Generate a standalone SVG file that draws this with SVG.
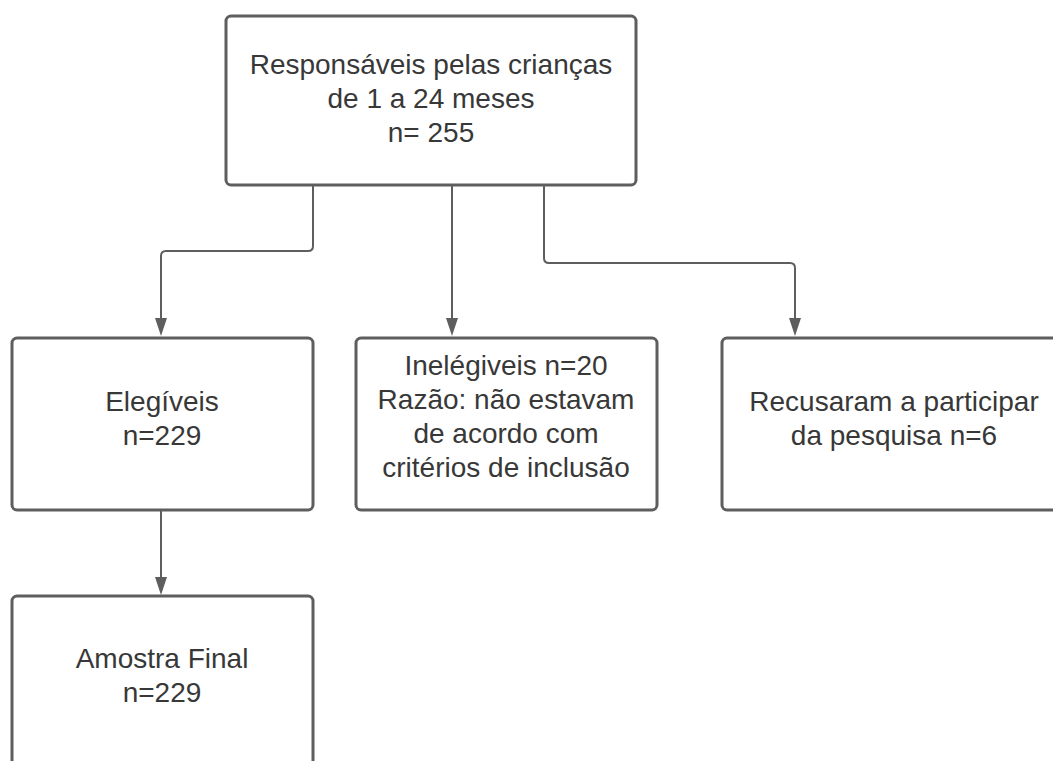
<svg xmlns="http://www.w3.org/2000/svg" width="1053" height="761" viewBox="0 0 1053 761">
<style>
.box{fill:#ffffff;stroke:#5e5e5e;stroke-width:3}
.t{font-family:"Liberation Sans",Arial,sans-serif;font-size:28px;fill:#383838;text-anchor:middle}
.c{fill:none;stroke:#5e5e5e;stroke-width:2}
.ah{fill:#5e5e5e}
</style>
<rect width="1053" height="761" fill="#ffffff"/>
<g id="connectors">
<path class="c" d="M313,186 V246 Q313,251 308,251 H166 Q161,251 161,256 V319"/>
<path class="ah" d="M155,318 L167,318 L161,336 Z"/>
<path class="c" d="M452,186 V319"/>
<path class="ah" d="M446,318 L458,318 L452,336 Z"/>
<path class="c" d="M544,186 V258 Q544,263 549,263 H790 Q795,263 795,268 V319"/>
<path class="ah" d="M789,318 L801,318 L795,336 Z"/>
<path class="c" d="M161,511 V578"/>
<path class="ah" d="M155,577 L167,577 L161,595 Z"/>
</g>
<g id="node-responsaveis">
<rect class="box" x="226" y="16" width="410" height="169" rx="5"/>
<text class="t" x="431" y="74">Responsáveis pelas crianças</text>
<text class="t" x="431" y="108">de 1 a 24 meses</text>
<text class="t" x="431" y="142">n= 255</text>
</g>
<g id="node-elegiveis">
<rect class="box" x="12" y="338" width="301" height="172" rx="5"/>
<text class="t" x="162" y="411">Elegíveis</text>
<text class="t" x="162" y="445">n=229</text>
</g>
<g id="node-inelegiveis">
<rect class="box" x="356" y="338" width="301" height="172" rx="5"/>
<text class="t" x="506" y="375">Inelégiveis n=20</text>
<text class="t" x="506" y="409">Razão: não estavam</text>
<text class="t" x="506" y="443">de acordo com</text>
<text class="t" x="506" y="477">critérios de inclusão</text>
</g>
<g id="node-recusaram">
<rect class="box" x="722" y="338" width="370" height="172" rx="5"/>
<text class="t" x="894" y="411">Recusaram a participar</text>
<text class="t" x="894" y="445">da pesquisa n=6</text>
</g>
<g id="node-amostra">
<rect class="box" x="12" y="596" width="301" height="200" rx="5"/>
<text class="t" x="162" y="668">Amostra Final</text>
<text class="t" x="162" y="702">n=229</text>
</g>
</svg>
